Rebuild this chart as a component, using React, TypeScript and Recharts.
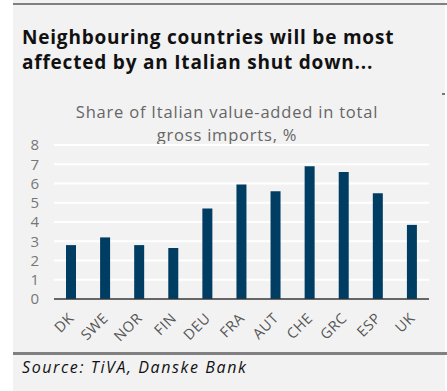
import React from 'react';
import { BarChart, Bar, XAxis, YAxis, CartesianGrid, ReferenceLine } from 'recharts';

const countries = ['DK', 'SWE', 'NOR', 'FIN', 'DEU', 'FRA', 'AUT', 'CHE', 'GRC', 'ESP', 'UK'];
const shares = [2.8, 3.2, 2.8, 2.65, 4.7, 5.95, 5.6, 6.9, 6.6, 5.5, 3.85];
const yTicks = [0, 1, 2, 3, 4, 5, 6, 7, 8];

const data = countries.map((c, i) => ({ country: c, share: shares[i] }));

const font = '"Open Sans", "DejaVu Sans", sans-serif';

// rotated country label, end of text sits just right of the bar
const CountryTick = (props: any) => {
  const { x, y, payload } = props;
  const tx = Number(x) + 4;
  const ty = Number(y) + 12;
  return (
    <g transform={`translate(${tx} ${ty}) rotate(-45)`}>
      <text x={0} y={0} textAnchor="end" fill="#555" fontSize={14.5} fontFamily={font} letterSpacing={0.6}>
        {payload.value}
      </text>
    </g>
  );
};

const App: React.FC = () => {
  return (
    <div style={{ position: 'absolute', left: 0, top: 0, width: 447, height: 391, background: '#fff', fontFamily: font }}>
      <div style={{ position: 'absolute', left: 13, top: 0, width: 432, height: 391, background: '#f2f2f2' }} />
      <div style={{ position: 'absolute', left: 13, top: 3, width: 434, height: 2, background: '#808080' }} />
      <div style={{ position: 'absolute', left: 22, top: 25, fontSize: 19, fontWeight: 700, color: '#111', lineHeight: '25px', letterSpacing: 0.8 }}>
        Neighbouring countries will be most
        <br />
        affected by an Italian shut down...
      </div>
      <div style={{ position: 'absolute', left: 442, top: 93, width: 3, height: 2, background: '#777' }} />
      <div style={{ position: 'absolute', left: 13, top: 100, width: 428, textAlign: 'center', fontSize: 16.5, color: '#666', lineHeight: '23px', letterSpacing: 0.8 }}>
        Share of Italian value-added in total
        <br />
        gross imports, %
      </div>
      <div style={{ position: 'absolute', left: 13, top: 135 }}>
        <BarChart width={434} height={214} data={data} margin={{ top: 10, right: 18, bottom: 0, left: 0 }}>
          <CartesianGrid horizontal vertical={false} stroke="#ffffff" strokeWidth={2} />
          <XAxis
            dataKey="country"
            axisLine={false}
            tickLine={false}
            interval={0}
            height={50}
            tick={(p: any) => <CountryTick {...p} />}
          />
          <YAxis
            domain={[0, 8]}
            ticks={yTicks}
            interval={0}
            axisLine={false}
            tickLine={false}
            width={41}
            dx={-7}
            tick={{ fill: '#777', fontSize: 15, fontFamily: font }}
          />
          <Bar dataKey="share" fill="#003d63" barSize={10} isAnimationActive={false} />
          <ReferenceLine y={0} stroke="#333" strokeWidth={1.5} />
        </BarChart>
      </div>
      <div style={{ position: 'absolute', left: 13, top: 352, width: 434, height: 3, background: '#808080' }} />
      <div style={{ position: 'absolute', left: 22, top: 356, fontSize: 16, fontStyle: 'italic', color: '#111', letterSpacing: 1.6 }}>
        Source: TiVA, Danske Bank
      </div>
    </div>
  );
};

export default App;
